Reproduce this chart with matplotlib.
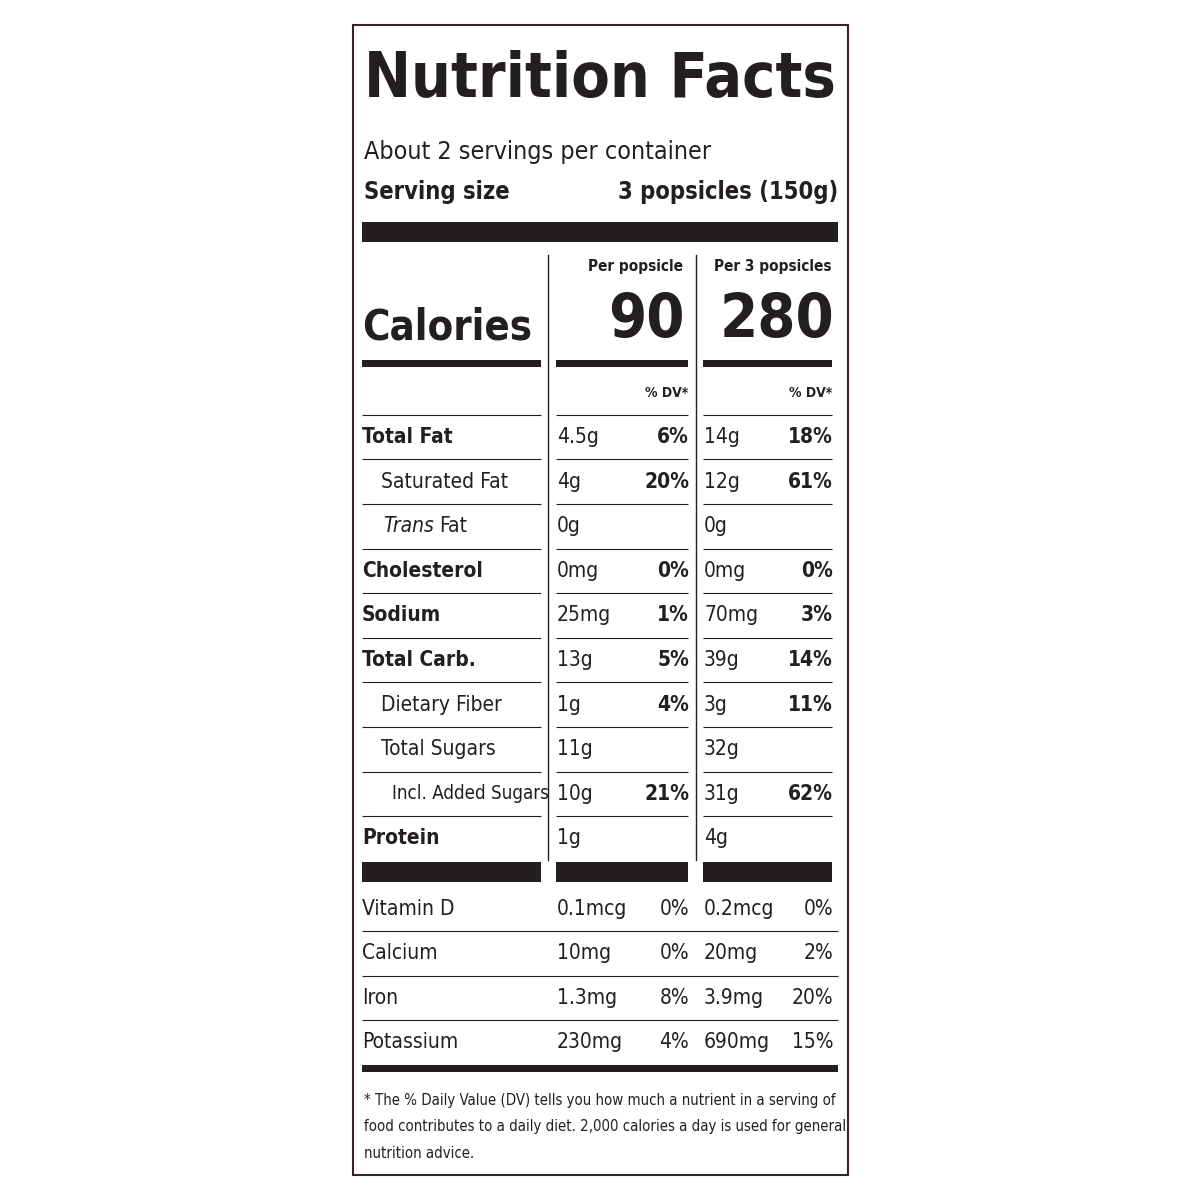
import matplotlib
matplotlib.use("Agg")
import matplotlib.pyplot as plt
from matplotlib.font_manager import fontManager

names = {f.name for f in fontManager.ttflist}
NARROW = ["Liberation Sans Narrow"] if "Liberation Sans Narrow" in names else ["DejaVu Sans"]
STRETCH = "normal" if "Liberation Sans Narrow" in names else "condensed"
INK = "#231f20"
BORDER = "#3b2226"

servings_text = "About 2 servings per container"
serving_size = "3 popsicles (150g)"
col_heads = ["Per popsicle", "Per 3 popsicles"]
calories = ["90", "280"]

nutrients = ["Total Fat", "Saturated Fat", "Trans Fat", "Cholesterol", "Sodium",
             "Total Carb.", "Dietary Fiber", "Total Sugars", "Incl. Added Sugars", "Protein"]
indent = [0, 1, 1, 0, 0, 0, 1, 1, 2, 0]
amt1 = ["4.5g", "4g", "0g", "0mg", "25mg", "13g", "1g", "11g", "10g", "1g"]
dv1 = ["6%", "20%", "", "0%", "1%", "5%", "4%", "", "21%", ""]
amt2 = ["14g", "12g", "0g", "0mg", "70mg", "39g", "3g", "32g", "31g", "4g"]
dv2 = ["18%", "61%", "", "0%", "3%", "14%", "11%", "", "62%", ""]

vitamins = ["Vitamin D", "Calcium", "Iron", "Potassium"]
vamt1 = ["0.1mcg", "10mg", "1.3mg", "230mg"]
vdv1 = ["0%", "0%", "8%", "4%"]
vamt2 = ["0.2mcg", "20mg", "3.9mg", "690mg"]
vdv2 = ["0%", "2%", "20%", "15%"]

footnote = ["* The % Daily Value (DV) tells you how much a nutrient in a serving of",
            "food contributes to a daily diet. 2,000 calories a day is used for general",
            "nutrition advice."]

fig = plt.figure(figsize=(12, 12), dpi=100)
ax = fig.add_axes([0, 0, 1, 1])
ax.set_xlim(0, 1200)
ax.set_ylim(1200, 0)
ax.axis("off")


def t(x, y, s, size, bold=False, ha="left", style="normal"):
    ax.text(x, y, s, fontsize=size, fontweight="bold" if bold else "normal", ha=ha, va="center",
            family=NARROW, fontstretch=STRETCH, color=INK, fontstyle=style)


def hline(y, x0, x1, w):
    ax.plot([x0, x1], [y, y], color=INK, lw=w, solid_capstyle="butt")


ax.add_patch(plt.Rectangle((353, 25), 495, 1150, fill=False, ec=BORDER, lw=1.5))

t(364, 80, "Nutrition Facts", 45, bold=True)
t(364, 152, servings_text, 18)
t(364, 192, "Serving size", 17, bold=True)
t(838, 192, serving_size, 17, bold=True, ha="right")
ax.add_patch(plt.Rectangle((362, 222), 476, 20, color=INK, lw=0))

segs = [(362, 541), (556, 688), (703, 832)]
ax.plot([548, 548], [255, 860], color=INK, lw=1)
ax.plot([696, 696], [255, 860], color=INK, lw=1)

t(683, 267, col_heads[0], 11, bold=True, ha="right")
t(832, 267, col_heads[1], 11, bold=True, ha="right")
t(362, 328, "Calories", 30, bold=True)
t(685, 320, calories[0], 44, bold=True, ha="right")
t(834, 320, calories[1], 44, bold=True, ha="right")
for a, b in segs:
    ax.add_patch(plt.Rectangle((a, 360), b - a, 7, color=INK, lw=0))
t(688, 393, "% DV*", 10, bold=True, ha="right")
t(832, 393, "% DV*", 10, bold=True, ha="right")

y0, dy = 437, 44.6
for i, name in enumerate(nutrients):
    y = y0 + i * dy
    for a, b in segs:
        hline(y - dy / 2, a, b, 0.8)
    x = 362 + [0, 19, 30][indent[i]]
    size = 13.5 if indent[i] == 2 else 15
    if name == "Trans Fat":
        t(x + 2, y, "Trans", size, style="italic")
        t(x + 58, y, "Fat", size)
    else:
        t(x, y, name, size, bold=indent[i] == 0)
    t(557, y, amt1[i], 15)
    t(689, y, dv1[i], 15, bold=True, ha="right")
    t(704, y, amt2[i], 15)
    t(833, y, dv2[i], 15, bold=True, ha="right")

for a, b in segs:
    ax.add_patch(plt.Rectangle((a, 862), b - a, 20, color=INK, lw=0))

for i, name in enumerate(vitamins):
    y = 909 + i * 44.3
    if i:
        hline(y - 22, 362, 838, 0.8)
    t(362, y, name, 15)
    t(557, y, vamt1[i], 15)
    t(689, y, vdv1[i], 15, ha="right")
    t(704, y, vamt2[i], 15)
    t(833, y, vdv2[i], 15, ha="right")

ax.add_patch(plt.Rectangle((362, 1065), 476, 7, color=INK, lw=0))
for i, line in enumerate(footnote):
    t(364, 1101 + i * 26, line, 10.7)

fig.savefig("out.png", dpi=100)
